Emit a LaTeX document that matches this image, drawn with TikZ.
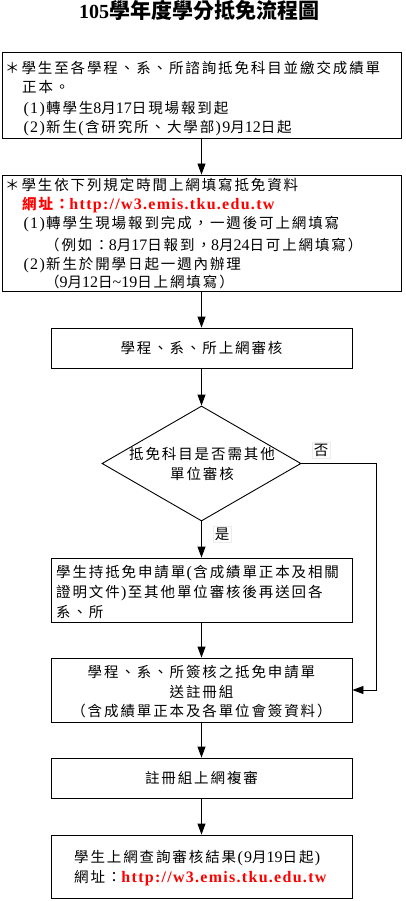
\documentclass[tikz,border=0pt]{standalone}
\usepackage{fontspec}
\setmainfont{Liberation Serif}
\newfontfamily\cjk[LetterSpace=13]{Noto Sans CJK TC}
\newfontfamily\cjktitle{Noto Sans CJK TC}
\newfontfamily\latf{Liberation Serif}
\newfontfamily\urlf[LetterSpace=8]{Liberation Serif}
\usetikzlibrary{shapes.geometric,arrows.meta}
\newcommand\La[1]{{\latf\fontsize{16}{19}\selectfont #1}}
\newcommand\Lp{\makebox[8pt][c]{\La{(}}}
\newcommand\Rp{\makebox[8pt][c]{\La{)}}}
\newcommand\Url{{\urlf\bfseries\fontsize{16}{19}\selectfont http://w3.emis.tku.edu.tw}}
\definecolor{urlred}{RGB}{255,0,0}
\tikzset{
  boxnode/.style={draw, line width=0.9pt, inner sep=0pt},
  txt/.style={inner sep=0pt, font=\cjk\fontsize{14.5}{17}\selectfont},
  lineL/.style={txt, anchor=base west},
  lineC/.style={txt, anchor=base},
  conn/.style={draw, line width=0.9pt, -{Triangle[length=11pt,width=8pt]}},
  tag/.style={txt, draw=gray!15, fill=white, inner sep=1.5pt}
}
\begin{document}
\begin{tikzpicture}[x=1pt,y=-1pt]
\useasboundingbox (0,0) rectangle (405,901);

% title
\node[inner sep=0pt, anchor=base] (title) at (199,19)
  {{\latf\bfseries\fontsize{20}{24}\selectfont 105}{\cjktitle\bfseries\fontsize{21}{24}\selectfont 學年度學分抵免流程圖}};

% boxes
\node[boxnode, minimum width=399pt, minimum height=86pt] (b1) at (201.5,95) {};
\node[boxnode, minimum width=399pt, minimum height=116pt] (b2) at (201.5,233) {};
\node[boxnode, minimum width=301pt, minimum height=40pt] (b3) at (201.5,348) {};
\node[boxnode, diamond, minimum width=199pt, minimum height=115pt] (dia) at (201.5,463.5) {};
\node[boxnode, minimum width=301pt, minimum height=64pt] (b4) at (201.5,590) {};
\node[boxnode, minimum width=301pt, minimum height=64pt] (b5) at (201.5,690) {};
\node[boxnode, minimum width=301pt, minimum height=40pt] (b6) at (201.5,778) {};
\node[boxnode, minimum width=301pt, minimum height=63pt] (b7) at (201.5,866.5) {};

% box 1 text
\node[lineL] (b1a) at (5,73.5) {＊學生至各學程、系、所諮詢抵免科目並繳交成績單};
\node[lineL] (b1b) at (22,92.5) {正本。};
\node[lineL] (b1c) at (22,113.5) {\Lp\La{1}\Rp 轉學生\La{8}月\La{17}日現場報到起};
\node[lineL] (b1d) at (22,132.5) {\Lp\La{2}\Rp 新生\Lp 含研究所、大學部\Rp\La{9}月\La{12}日起};

% box 2 text
\node[lineL] (b2a) at (5,190.5) {＊學生依下列規定時間上網填寫抵免資料};
\node[lineL, text=urlred] (b2b) at (22,209.5) {\bfseries 網址：\Url};
\node[lineL] (b2c) at (22,228.5) {\Lp\La{1}\Rp 轉學生現場報到完成，一週後可上網填寫};
\node[lineL] (b2d) at (45,250.5) {（例如：\La{8}月\La{17}日報到，\La{8}月\La{24}日可上網填寫）};
\node[lineL] (b2e) at (22,269.5) {\Lp\La{2}\Rp 新生於開學日起一週內辦理};
\node[lineL] (b2f) at (45,287.5) {（\La{9}月\La{12}日\La{\textasciitilde 19}日上網填寫）};

% box 3
\node[lineC] (b3t) at (201.5,353.5) {學程、系、所上網審核};

% diamond text
\node[lineC] (dia1) at (202,459.5) {抵免科目是否需其他};
\node[lineC] (dia2) at (202,479.5) {單位審核};

% box 4
\node[lineL] (b4a) at (56,577.5) {學生持抵免申請單\Lp 含成績單正本及相關};
\node[lineL] (b4b) at (56,597.5) {證明文件\Rp 至其他單位審核後再送回各};
\node[lineL] (b4c) at (56,617.5) {系、所};

% box 5
\node[lineC] (b5a) at (201.5,677.5) {學程、系、所簽核之抵免申請單};
\node[lineC] (b5b) at (201.5,697.5) {送註冊組};
\node[lineC] (b5c) at (201.5,716.5) {（含成績單正本及各單位會簽資料）};

% box 6
\node[lineC] (b6t) at (201.5,783.5) {註冊組上網複審};

% box 7
\node[lineL] (b7a) at (74,862.5) {學生上網查詢審核結果\Lp\La{9}月\La{19}日起\Rp};
\node[lineL] (b7b) at (74,882.5) {網址：{\color{urlred}\Url}};

% labels
\node[tag] (no) at (321,450) {否};
\node[tag] (yes) at (222,534) {是};

% connectors
\coordinate (nx) at (376,463.5);
\draw[conn] (b1) -- (b2);
\draw[conn] (b2) -- (b3);
\draw[conn] (b3) -- (dia);
\draw[conn] (dia) -- (b4);
\draw[conn] (b4) -- (b5);
\draw[conn] (b5) -- (b6);
\draw[conn] (b6) -- (b7);
\draw[conn] (dia.east) -- (nx) |- (b5.east);
\end{tikzpicture}
\end{document}
